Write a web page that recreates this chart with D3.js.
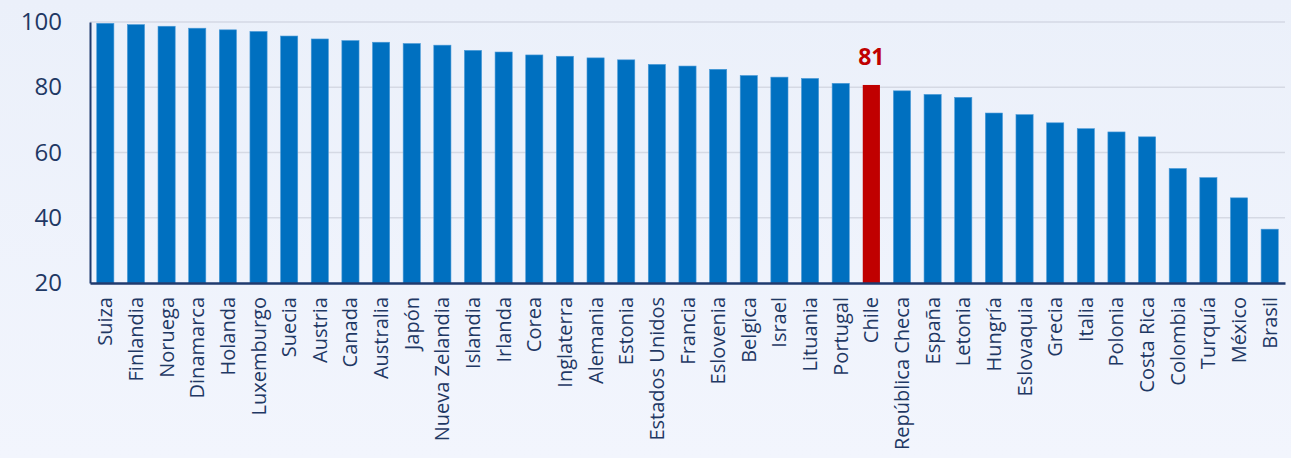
<!DOCTYPE html>
<html>
<head>
<meta charset="utf-8">
<script src="https://cdn.jsdelivr.net/npm/d3@7"></script>
<style>
  html, body { margin: 0; padding: 0; }
  body { width: 1291px; height: 458px; overflow: hidden; background: #eef2fb; }
</style>
</head>
<body>
<div id="chart"></div>
<script>
var countries = ["Suiza","Finlandia","Noruega","Dinamarca","Holanda","Luxemburgo","Suecia","Austria","Canada","Australia",
  "Japón","Nueva Zelandia","Islandia","Irlanda","Corea","Inglaterra","Alemania","Estonia","Estados Unidos","Francia",
  "Eslovenia","Belgica","Israel","Lituania","Portugal","Chile","República Checa","España","Letonia","Hungría",
  "Eslovaquia","Grecia","Italia","Polonia","Costa Rica","Colombia","Turquía","México","Brasil"]
var values = [99.6,99.2,98.7,98.1,97.6,97.1,95.7,94.8,94.3,93.8,
  93.4,92.9,91.3,90.8,89.9,89.5,89.0,88.4,87.0,86.5,
  85.5,83.6,83.1,82.7,81.2,80.7,78.9,77.8,76.9,72.1,
  71.6,69.1,67.3,66.3,64.8,55.1,52.3,46.1,36.5]
var yTicks = [20,40,60,80,100]
var highlight = "Chile"
var highlightLabel = "81"

var W = 1291, H = 458
var margin = {top: 22, right: 6, bottom: 175, left: 90}
var width = W - margin.left - margin.right,
    height = H - margin.top - margin.bottom

var svg = d3.select("#chart").append("svg")
  .attr("width", W)
  .attr("height", H)

var defs = svg.append("defs")
var grad = defs.append("linearGradient").attr("id","bg").attr("x1",0).attr("y1",0).attr("x2",0).attr("y2",1)
grad.append("stop").attr("offset","0%").attr("stop-color","#ebf0fa")
grad.append("stop").attr("offset","100%").attr("stop-color","#f2f5fd")
svg.append("rect").attr("width", W).attr("height", H).attr("fill","url(#bg)")

var g = svg.append("g").attr("transform","translate(" + margin.left + "," + margin.top + ")")

var x = d3.scaleBand()
  .domain(countries)
  .range([0, width])
  .paddingInner(0.44)
  .paddingOuter(0.22)

var y = d3.scaleLinear()
  .domain([20, 100])
  .range([height, 0])

// gridlines
g.append("g")
  .selectAll("line")
  .data(yTicks.slice(1))
  .enter().append("line")
  .attr("x1", 0)
  .attr("x2", width)
  .attr("y1", d => y(d))
  .attr("y2", d => y(d))
  .attr("stroke", "#d5d9e4")
  .attr("stroke-width", 1.5)

// bars
g.append("g")
  .selectAll("rect")
  .data(countries)
  .enter().append("rect")
  .attr("x", d => x(d))
  .attr("width", x.bandwidth())
  .attr("y", (d, i) => y(values[i]))
  .attr("height", (d, i) => height - y(values[i]))
  .attr("fill", d => d == highlight ? "#c00000" : "#0070c0")
  .attr("stroke", d => d == highlight ? "none" : "#4a9ad8")
  .attr("stroke-width", 0.6)

// highlight value label
var hi = countries.indexOf(highlight)
g.append("text")
  .attr("x", x(highlight) + x.bandwidth() / 2)
  .attr("y", y(values[hi]) - 20)
  .attr("text-anchor", "middle")
  .attr("fill", "#c00000")
  .attr("font-family", "'Open Sans', sans-serif")
  .attr("font-weight", "bold")
  .attr("font-size", "23px")
  .text(highlightLabel)

// y axis
var yAxis = g.append("g")
  .call(d3.axisLeft(y).tickValues(yTicks).tickSize(0).tickPadding(28))
yAxis.select(".domain").attr("stroke", "#1f3a6e").attr("stroke-width", 2)
yAxis.selectAll("text")
  .attr("fill", "#1f3864")
  .attr("font-family", "'Open Sans', sans-serif")
  .attr("font-size", "24px")

// x axis
var xAxis = g.append("g")
  .attr("transform", "translate(0," + height + ")")
  .call(d3.axisBottom(x).tickSize(0).tickPadding(0))
xAxis.select(".domain").attr("stroke", "#1f3a6e").attr("stroke-width", 2.5)
xAxis.selectAll("text")
  .attr("transform", "rotate(-90)")
  .attr("text-anchor", "end")
  .attr("x", -14)
  .attr("y", 0)
  .attr("dy", "0.35em")
  .attr("fill", "#1f3864")
  .attr("font-family", "'Open Sans', sans-serif")
  .attr("font-size", "20px")
</script>
</body>
</html>
